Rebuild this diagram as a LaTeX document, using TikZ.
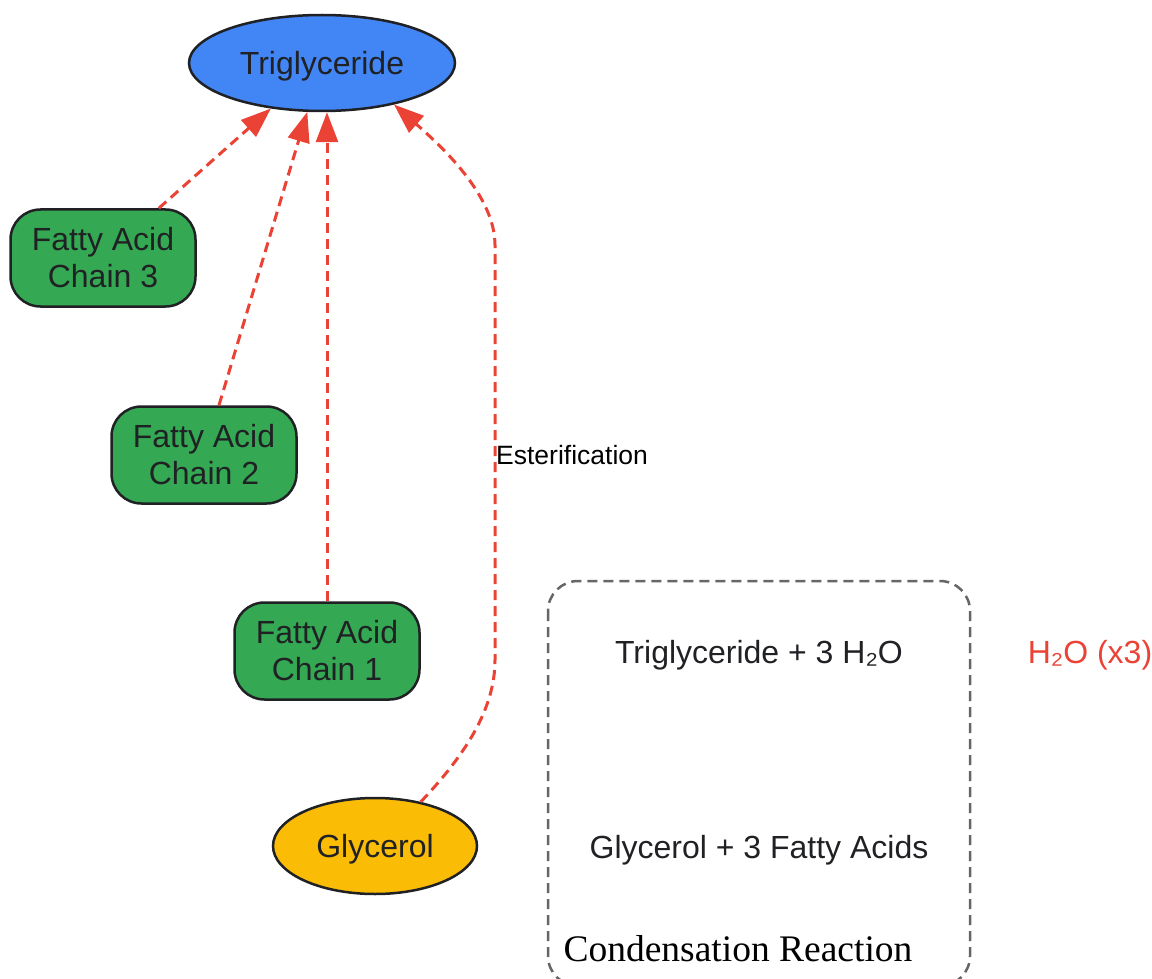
\documentclass[tikz,border=0pt]{standalone}
\usepackage{fontspec}
\setmainfont{Liberation Sans}
\newfontfamily\serifface{Liberation Serif}
\usetikzlibrary{arrows.meta,shapes.geometric}
\definecolor{gblue}{HTML}{4285F4}
\definecolor{ggreen}{HTML}{34A853}
\definecolor{gyellow}{HTML}{FBBC05}
\definecolor{gred}{HTML}{EA4335}
\definecolor{txt}{HTML}{202124}
\definecolor{boxgray}{HTML}{666666}
\tikzset{
  nodetext/.style={text=txt,font=\fontsize{32}{37}\selectfont},
  oneline/.style={text height=23pt,text depth=0pt},
  ellnode/.style={ellipse,draw=txt,line width=2.5pt,inner sep=0pt,minimum width=266pt,minimum height=96pt,nodetext,oneline},
  chainbox/.style={rectangle,rounded corners=30pt,draw=txt,line width=2.5pt,fill=ggreen,inner sep=0pt,minimum width=185pt,minimum height=97pt,align=center,nodetext},
  link/.style={draw=gred,line width=3pt,dash pattern=on 10pt off 6pt,-{Triangle[length=30pt,width=22pt]}},
  cluster/.style={draw=boxgray,line width=2.5pt,dash pattern=on 10pt off 6pt,rounded corners=30pt},
  plaintext/.style={text=txt,font=\fontsize{32}{37}\selectfont,oneline}
}
\begin{document}
\begin{tikzpicture}[x=1pt,y=-1pt]
\useasboundingbox (0,0) rectangle (1152,979);
% cluster
\draw[cluster] (548,581) rectangle (970,986);
\node[plaintext] (eq1) at (759,652) {Triglyceride + 3 H₂O};
\node[plaintext] (eq2) at (759,847) {Glycerol + 3 Fatty Acids};
\node[text=black,font=\serifface\fontsize{37.5}{40}\selectfont,text height=25pt,text depth=0pt] (clab) at (738,949) {Condensation Reaction};
\node[plaintext,text=gred] (water) at (1090,652) {H₂O (x3)};
% nodes
\node[ellnode,fill=gblue] (tri) at (322,63) {Triglyceride};
\node[chainbox] (fa3) at (103,258) {Fatty Acid\\Chain 3};
\node[chainbox] (fa2) at (204,455) {Fatty Acid\\Chain 2};
\node[chainbox] (fa1) at (327,651) {Fatty Acid\\Chain 1};
\node[ellnode,fill=gyellow,minimum width=204pt] (gly) at (375,846) {Glycerol};
% edges
\draw[link] (fa3) -- (tri);
\draw[link] (fa2) -- (tri);
\draw[link] (fa1.north) -- (fa1.north |- tri.south);
\draw[link] (gly.44) .. controls (470,750) and (495,705) .. (495,660) -- (495,245)
  .. controls (495,195) and (440,145) .. (tri.-30);
\node[anchor=west,text=black,font=\fontsize{26.5}{30}\selectfont,inner sep=0pt] (elab) at (496,455) {Esterification};
\end{tikzpicture}
\end{document}
